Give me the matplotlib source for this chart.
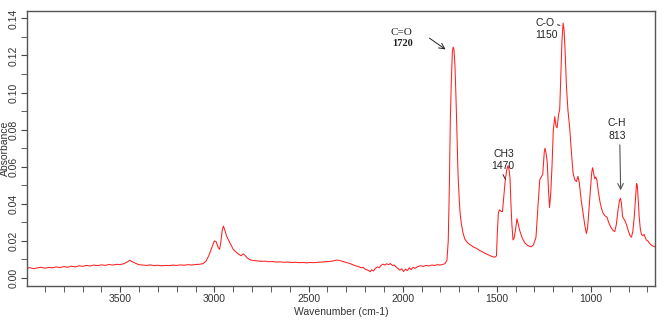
import numpy as np
import matplotlib.pyplot as plt
from matplotlib.ticker import MultipleLocator

# IR spectrum: wavenumber (cm-1) and absorbance
wavenumber = [
    4000, 3980, 3960, 3940, 3920, 3900, 3880, 3860, 3840, 3820, 3800, 3780,
    3760, 3740, 3720, 3700, 3680, 3660, 3640, 3620, 3600, 3580, 3560, 3540,
    3520, 3500, 3480, 3460, 3450, 3440, 3420, 3400, 3380, 3360, 3340, 3320,
    3300, 3280, 3260, 3240, 3220, 3200, 3180, 3160, 3140, 3120, 3100, 3080,
    3060, 3045, 3030, 3015, 3000, 2990, 2980, 2972, 2965, 2958, 2952, 2945,
    2935, 2925, 2912, 2900, 2885, 2870, 2858, 2848, 2840, 2825, 2810, 2790,
    2770, 2750, 2730, 2710, 2690, 2670, 2650, 2630, 2610, 2590, 2570, 2550,
    2530, 2510, 2490, 2470, 2450, 2430, 2410, 2390, 2370, 2350, 2335, 2320,
    2300, 2280, 2265, 2250, 2235, 2220, 2210, 2200, 2190, 2180, 2172, 2165,
    2155, 2145, 2135, 2125, 2115, 2105, 2095, 2085, 2075, 2065, 2055, 2045,
    2035, 2025, 2015, 2005, 1995, 1985, 1975, 1965, 1955, 1945, 1935, 1920,
    1905, 1890, 1875, 1860, 1845, 1830, 1815, 1800, 1785, 1775, 1765, 1758,
    1752, 1747, 1741, 1736, 1732, 1728, 1723, 1717, 1712, 1706, 1700, 1695,
    1688, 1680, 1670, 1655, 1640, 1625, 1608, 1590, 1575, 1560, 1545, 1530,
    1520, 1510, 1502, 1497, 1492, 1486, 1478, 1470, 1463, 1456, 1448, 1441,
    1436, 1430, 1425, 1420, 1414, 1408, 1400, 1393, 1386, 1378, 1365, 1350,
    1335, 1318, 1305, 1292, 1282, 1272, 1264, 1256, 1248, 1244, 1238, 1232,
    1226, 1220, 1214, 1207, 1200, 1192, 1186, 1180, 1172, 1166, 1160, 1154,
    1148, 1143, 1138, 1130, 1122, 1113, 1104, 1095, 1086, 1077, 1069, 1062,
    1052, 1042, 1032, 1024, 1018, 1010, 1003, 996, 991, 985, 980, 974,
    968, 960, 952, 944, 936, 925, 915, 906, 895, 884, 874, 865,
    856, 848, 843, 838, 832, 826, 820, 812, 802, 792, 785, 778,
    770, 764, 758, 754, 749, 744, 738, 732, 725, 718, 712, 706,
    698, 690, 680, 670, 660, 650,
]
absorbance = [
    0.0052, 0.0056, 0.0050, 0.0055, 0.0058, 0.0053, 0.0057, 0.0055, 0.0060, 0.0056, 0.0062, 0.0058,
    0.0064, 0.0060, 0.0066, 0.0063, 0.0068, 0.0065, 0.0070, 0.0067, 0.0071, 0.0068, 0.0073, 0.0070,
    0.0074, 0.0072, 0.0078, 0.0088, 0.0096, 0.0090, 0.0080, 0.0072, 0.0070, 0.0068, 0.0071, 0.0067,
    0.0069, 0.0066, 0.0068, 0.0067, 0.0070, 0.0068, 0.0071, 0.0069, 0.0072, 0.0070, 0.0073, 0.0074,
    0.0078, 0.0090, 0.0120, 0.0160, 0.0200, 0.0195, 0.0165, 0.0155, 0.0200, 0.0260, 0.0280, 0.0260,
    0.0225, 0.0205, 0.0180, 0.0155, 0.0140, 0.0128, 0.0120, 0.0130, 0.0125, 0.0108, 0.0098, 0.0094,
    0.0092, 0.0090, 0.0091, 0.0088, 0.0089, 0.0086, 0.0087, 0.0085, 0.0086, 0.0084, 0.0085, 0.0083,
    0.0084, 0.0082, 0.0084, 0.0083, 0.0085, 0.0086, 0.0088, 0.0089, 0.0092, 0.0097, 0.0095, 0.0090,
    0.0084, 0.0078, 0.0072, 0.0066, 0.0062, 0.0055, 0.0058, 0.0048, 0.0044, 0.0040, 0.0034, 0.0045,
    0.0038, 0.0052, 0.0060, 0.0055, 0.0068, 0.0075, 0.0070, 0.0077, 0.0072, 0.0078, 0.0068, 0.0070,
    0.0060, 0.0052, 0.0042, 0.0050, 0.0035, 0.0048, 0.0040, 0.0055, 0.0045, 0.0058, 0.0052, 0.0062,
    0.0066, 0.0063, 0.0068, 0.0065, 0.0070, 0.0068, 0.0072, 0.0070, 0.0074, 0.0078, 0.0095, 0.0200,
    0.0500, 0.0850, 0.1080, 0.1220, 0.1245, 0.1235, 0.1160, 0.0980, 0.0780, 0.0560, 0.0430, 0.0350,
    0.0290, 0.0245, 0.0210, 0.0190, 0.0178, 0.0168, 0.0160, 0.0148, 0.0140, 0.0132, 0.0125, 0.0118,
    0.0115, 0.0112, 0.0120, 0.0250, 0.0350, 0.0368, 0.0360, 0.0358, 0.0440, 0.0520, 0.0580, 0.0605,
    0.0590, 0.0540, 0.0400, 0.0290, 0.0205, 0.0215, 0.0265, 0.0320, 0.0290, 0.0255, 0.0215, 0.0188,
    0.0175, 0.0168, 0.0180, 0.0220, 0.0380, 0.0530, 0.0545, 0.0560, 0.0680, 0.0700, 0.0670, 0.0620,
    0.0480, 0.0380, 0.0450, 0.0600, 0.0800, 0.0870, 0.0820, 0.0810, 0.0880, 0.0910, 0.1100, 0.1280,
    0.1375, 0.1340, 0.1240, 0.1030, 0.0900, 0.0810, 0.0680, 0.0565, 0.0530, 0.0520, 0.0548, 0.0515,
    0.0420, 0.0350, 0.0280, 0.0240, 0.0270, 0.0380, 0.0480, 0.0570, 0.0595, 0.0560, 0.0535, 0.0545,
    0.0525, 0.0460, 0.0410, 0.0375, 0.0350, 0.0335, 0.0328, 0.0300, 0.0275, 0.0258, 0.0250, 0.0290,
    0.0370, 0.0420, 0.0430, 0.0400, 0.0330, 0.0320, 0.0310, 0.0290, 0.0255, 0.0228, 0.0220, 0.0250,
    0.0330, 0.0420, 0.0510, 0.0500, 0.0420, 0.0330, 0.0265, 0.0235, 0.0228, 0.0235, 0.0220, 0.0205,
    0.0200, 0.0188, 0.0178, 0.0172, 0.0168, 0.0168,
]

plt.rcParams['font.family'] = ['Liberation Sans', 'DejaVu Sans']

fig = plt.figure(figsize=(6.67, 3.21), dpi=100)
ax = fig.add_axes([0.0405, 0.109, 0.9415, 0.858])

ax.plot(wavenumber, absorbance, color='#ff2020', linewidth=0.75)

ax.set_xlim(3995, 660)
ax.set_ylim(-0.0043, 0.1442)
ax.xaxis.set_major_locator(MultipleLocator(500))
ax.xaxis.set_minor_locator(MultipleLocator(100))
ax.yaxis.set_major_locator(MultipleLocator(0.02))
ax.yaxis.set_minor_locator(MultipleLocator(0.01))
ax.yaxis.set_major_formatter(plt.FuncFormatter(lambda v, p: f'{v:.2f}'))

for lab in ax.get_yticklabels():
    lab.set_rotation(90)
    lab.set_va('center')
ax.tick_params(axis='both', which='both', direction='out', color='#444444',
               labelcolor='#333333', labelsize=7.5)
ax.tick_params(axis='both', which='major', length=4, pad=2)
ax.tick_params(axis='both', which='minor', length=4)
ax.tick_params(axis='x', which='minor', labelbottom=False)

for s in ax.spines.values():
    s.set_color('#555555')
    s.set_linewidth(1.0)

ax.set_xlabel('Wavenumber (cm-1)', fontsize=7.5, color='#333333', labelpad=2)
ax.set_ylabel('Absorbance', fontsize=7.5, color='#333333', labelpad=-1)

# peak labels
ax.text(2009, 0.1326, 'C=O', fontsize=8, family='Liberation Serif',
        ha='center', va='center', color='#222222')
ax.text(1999, 0.1267, '1720', fontsize=7.5, family='Liberation Serif',
        weight='bold', ha='center', va='center', color='#222222')
ax.annotate('', xy=(1760, 0.1224), xytext=(1870, 0.1302),
            arrowprops=dict(arrowstyle='->', color='#222222', lw=0.7))

ax.text(1245, 0.1375, 'C-O', fontsize=7.5, ha='center', va='center', color='#222222')
ax.text(1235, 0.1310, '1150', fontsize=7.5, ha='center', va='center', color='#222222')
ax.annotate('', xy=(1150, 0.1358), xytext=(1192, 0.1370),
            arrowprops=dict(arrowstyle='-', color='#222222', lw=0.7))

ax.text(1463, 0.0671, 'CH3', fontsize=7.5, ha='center', va='center', color='#222222')
ax.text(1468, 0.0604, '1470', fontsize=7.5, ha='center', va='center', color='#222222')
ax.annotate('', xy=(1447, 0.0518), xytext=(1474, 0.0571),
            arrowprops=dict(arrowstyle='-', color='#222222', lw=0.7))

ax.text(863, 0.0838, 'C-H', fontsize=7.5, ha='center', va='center', color='#222222')
ax.text(863, 0.0766, '813', fontsize=7.5, ha='center', va='center', color='#222222')
ax.annotate('', xy=(842, 0.0458), xytext=(847, 0.0733),
            arrowprops=dict(arrowstyle='->', color='#555555', lw=0.8))

plt.savefig('out.png', dpi=100)
